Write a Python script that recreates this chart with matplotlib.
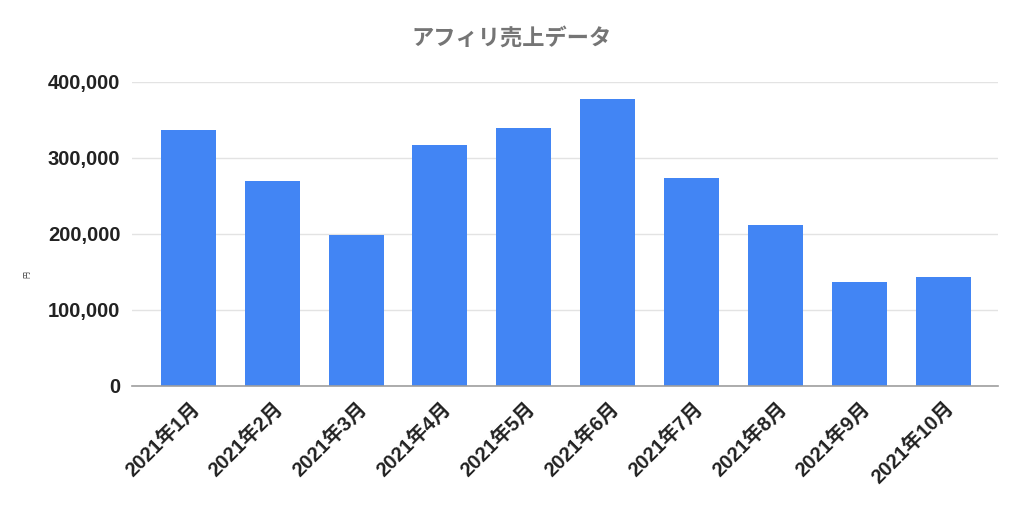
import matplotlib
matplotlib.use("Agg")
import matplotlib.pyplot as plt
import matplotlib.transforms as mtransforms
from matplotlib.ticker import FuncFormatter

months = ["2021年1月", "2021年2月", "2021年3月", "2021年4月", "2021年5月",
          "2021年6月", "2021年7月", "2021年8月", "2021年9月", "2021年10月"]
sales = [337000, 270000, 199000, 317000, 339000, 378000, 274000, 212000, 137000, 143500]
y_ticks = [0, 100000, 200000, 300000, 400000]
title = "アフィリ売上データ"
ylabel = "円"

fam = ["Liberation Sans", "Noto Sans CJK JP", "DejaVu Sans"]
plt.rcParams["font.family"] = fam

fig = plt.figure(figsize=(10.24, 5.08), dpi=100)
ax = fig.add_axes([0.129, 0.2407, 0.846, 0.598])

x = list(range(len(months)))
ax.bar(x, sales, width=0.656, color="#4285F4", zorder=3)

ax.set_xlim(-0.67, 9.66)
ax.set_ylim(0, 400000)
ax.set_yticks(y_ticks)
ax.yaxis.set_major_formatter(FuncFormatter(lambda v, p: f"{int(v):,}"))
ax.grid(axis="y", color="#e3e3e3", linewidth=1, zorder=0)
for s in ["top", "right", "left"]:
    ax.spines[s].set_visible(False)
ax.spines["bottom"].set_color("#9e9e9e")
ax.spines["bottom"].set_linewidth(1.2)
ax.spines["bottom"].set_zorder(4)
ax.tick_params(axis="both", length=0)
ax.tick_params(axis="y", pad=8.5, labelsize=14.5, labelcolor="#222222")
for lab in ax.get_yticklabels():
    lab.set_fontweight("bold")

ax.set_xticks(x)
ax.set_xticklabels(months, rotation=45, ha="right", va="center",
                   rotation_mode="anchor", fontsize=14.5, fontweight="bold",
                   color="#222222")
ax.tick_params(axis="x", pad=14)
offset = mtransforms.ScaledTranslation(8 / 100, 0, fig.dpi_scale_trans)
for lab in ax.get_xticklabels():
    lab.set_transform(lab.get_transform() + offset)

fig.text(0.5, 1 - 39 / 508, title, ha="center", va="center", fontsize=16,
         fontweight="bold", color="#757575")
fig.text(28 / 1024, 1 - 275 / 508, ylabel, rotation=90, ha="center",
         va="center", fontsize=5, color="#333333")

fig.savefig("out.png", dpi=100, facecolor="white")
